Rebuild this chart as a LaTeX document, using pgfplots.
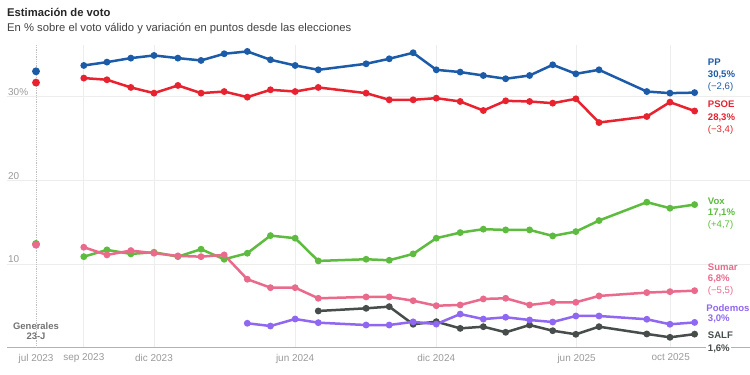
\documentclass[border=0pt]{standalone}
\usepackage{pgfplots}
\pgfplotsset{compat=1.18}
\usepackage{fontspec}
\setmainfont{Liberation Sans}
\definecolor{ppc}{HTML}{1C5BA8}
\definecolor{psoec}{HTML}{E8232F}
\definecolor{voxc}{HTML}{5DBB3F}
\definecolor{sumarc}{HTML}{EA6A8C}
\definecolor{podc}{HTML}{8F67F0}
\definecolor{salfc}{HTML}{464D4B}
\definecolor{gridc}{HTML}{EDEDED}
\definecolor{tickc}{HTML}{9A9A9A}
\begin{document}
\begin{tikzpicture}
\begin{axis}[name=ax, at={(0,0)}, anchor=south west,
  scale only axis, width=743bp, height=302.5bp,
  xmin=-37.6, xmax=925.8, ymin=0, ymax=36.2,
  clip=false,
  axis x line*=bottom, axis y line*=left,
  x axis line style={draw=black!30, line width=1.2bp, -},
  y axis line style={draw=none},
  xtick={62,153,336,519,701,823},
  xticklabels={sep 2023, dic 2023, jun 2024, dic 2024, jun 2025, oct 2025},
  extra x ticks={0}, extra x tick labels={jul 2023},
  extra x tick style={major grid style={draw=black!25, densely dotted, line width=0.8bp}},
  ytick={10,20,30}, yticklabels={10,20,30\%},
  major tick length=0pt,
  xmajorgrids, ymajorgrids,
  major grid style={draw=gridc, line width=0.8bp},
  every tick label/.append style={font=\fontsize{10}{12}\selectfont, text=tickc},
  /pgf/number format/assume math mode=true,
  xticklabel style={yshift=-3bp},
  yticklabel style={anchor=south west, inner sep=1bp, xshift=0bp},
  every axis plot/.append style={line width=2.5bp, mark=*, mark size=2.1bp},
]
% election points
\addplot[only marks, mark=*, mark size=2.6bp, color=ppc] coordinates {(0,33.05)};
\addplot[only marks, mark=*, mark size=2.6bp, color=psoec] coordinates {(0,31.7)};
\addplot[only marks, mark=*, mark size=2.6bp, color=voxc] coordinates {(0,12.4)};
\addplot[only marks, mark=*, mark size=2.6bp, color=sumarc] coordinates {(0,12.3)};
% SALF
\addplot[color=salfc] coordinates {
(366,4.37)(428,4.69)(458,4.89)(489,2.78)(519,3.09)(550,2.29)(580,2.49)(609,1.82)(640,2.69)(670,2.01)(700,1.58)(730,2.49)(792,1.62)(822,1.22)(854,1.6)};
% Podemos
\addplot[color=podc] coordinates {
(274,2.9)(304,2.57)(336,3.41)(366,2.97)(428,2.69)(458,2.69)(489,3.07)(519,2.8)(550,4.0)(580,3.4)(609,3.62)(640,3.29)(670,3.05)(700,3.77)(730,3.77)(792,3.38)(822,2.78)(854,3.0)};
% Vox
\addplot[color=voxc] coordinates {
(62,10.87)(92,11.68)(123,11.2)(153,11.4)(184,10.87)(214,11.76)(244,10.56)(274,11.28)(304,13.39)(336,13.08)(366,10.36)(428,10.56)(458,10.44)(489,11.2)(519,13.08)(550,13.75)(580,14.16)(609,14.07)(640,14.07)(670,13.35)(700,13.87)(730,15.19)(792,17.39)(822,16.67)(854,17.1)};
% Sumar
\addplot[color=sumarc] coordinates {
(62,12.0)(92,11.08)(123,11.6)(153,11.28)(184,10.96)(214,10.87)(244,11.08)(274,8.17)(304,7.16)(336,7.16)(366,5.89)(428,6.05)(458,6.05)(489,5.6)(519,5.0)(550,5.09)(580,5.81)(609,5.89)(640,5.09)(670,5.41)(700,5.41)(730,6.17)(792,6.57)(822,6.68)(854,6.8)};
% PSOE
\addplot[color=psoec] coordinates {
(62,32.24)(92,32.04)(123,31.12)(153,30.44)(184,31.36)(214,30.44)(244,30.63)(274,29.96)(304,30.84)(336,30.63)(366,31.12)(428,30.44)(458,29.64)(489,29.64)(519,29.84)(550,29.44)(580,28.36)(609,29.52)(640,29.44)(670,29.24)(700,29.76)(730,26.92)(792,27.64)(822,29.36)(854,28.3)};
% PP
\addplot[color=ppc] coordinates {
(62,33.75)(92,34.15)(123,34.63)(153,34.95)(184,34.63)(214,34.35)(244,35.15)(274,35.43)(304,34.43)(336,33.75)(366,33.23)(428,33.95)(458,34.55)(489,35.27)(519,33.23)(550,32.96)(580,32.55)(609,32.16)(640,32.55)(670,33.83)(700,32.75)(730,33.23)(792,30.63)(822,30.44)(854,30.5)};
% labels
\tikzset{lab/.style={anchor=west, inner sep=0pt, font=\fontsize{9.6}{12}\selectfont\bfseries},
         labn/.style={anchor=west, inner sep=0pt, font=\fontsize{9.6}{12}\selectfont}}
\node[lab, text=ppc] at (axis cs:871,34.1) {PP};
\node[lab, text=ppc] at (axis cs:871,32.63) {30,5\%};
\node[labn, text=ppc] at (axis cs:871,31.16) {(−2,6)};
\node[lab, text=psoec] at (axis cs:871,29.13) {PSOE};
\node[lab, text=psoec] at (axis cs:871,27.53) {28,3\%};
\node[labn, text=psoec] at (axis cs:871,26.05) {(−3,4)};
\node[lab, text=voxc] at (axis cs:871,17.46) {Vox};
\node[lab, text=voxc] at (axis cs:871,16.07) {17,1\%};
\node[labn, text=voxc] at (axis cs:871,14.67) {(+4,7)};
\node[lab, text=sumarc] at (axis cs:871,9.6) {Sumar};
\node[lab, text=sumarc] at (axis cs:871,8.17) {6,8\%};
\node[labn, text=sumarc] at (axis cs:871,6.8) {(−5,5)};
\node[lab, text=podc] at (axis cs:869,4.77) {Podemos};
\node[lab, text=podc] at (axis cs:871,3.38) {3,0\%};
\node[lab, text=salfc] at (axis cs:871,1.5) {SALF};
\node[lab, text=salfc, fill=white, inner xsep=1.5bp, inner ysep=0.5bp, xshift=-1.5bp] at (axis cs:871,-0.2) {1,6\%};
\node[font=\fontsize{9.5}{11}\selectfont\bfseries, text=black!55, inner sep=0pt] at (axis cs:0,2.61) {Generales};
\node[font=\fontsize{9.5}{11}\selectfont\bfseries, text=black!55, inner sep=0pt] at (axis cs:0,1.29) {23-J};
\end{axis}
\node[anchor=west, inner sep=0pt, font=\fontsize{11.3}{13}\selectfont\bfseries, text=black!85] at ([yshift=33bp]ax.north west) {Estimación de voto};
\node[anchor=west, inner sep=0pt, font=\fontsize{11.3}{13}\selectfont, text=black!75] at ([yshift=16.5bp]ax.north west) {En \% sobre el voto válido y variación en puntos desde las elecciones};
\pgfresetboundingbox
\path[use as bounding box] ([xshift=-7bp,yshift=-27.5bp]ax.south west) rectangle ([yshift=45bp]ax.north east);
\end{tikzpicture}
\end{document}
